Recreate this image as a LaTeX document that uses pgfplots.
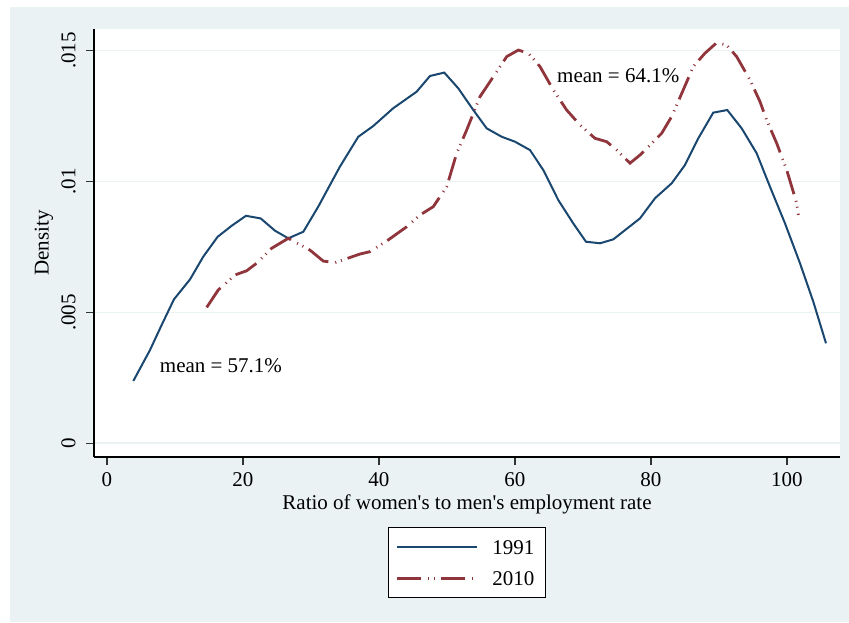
\documentclass[border=0pt]{standalone}
\usepackage{fontspec}
\setmainfont{Liberation Serif}
\usepackage{pgfplots}
\pgfplotsset{compat=1.18}

\definecolor{bgblue}{RGB}{234,242,243}
\definecolor{snavy}{RGB}{26,71,111}
\definecolor{smaroon}{RGB}{144,53,59}

\begin{document}
\begin{tikzpicture}[font=\fontsize{10.5pt}{12.6pt}\selectfont]
% page is 849x622 px, 1 px = 0.5pt
\path[use as bounding box, fill=white] (0pt,0pt) rectangle (424.5pt,311pt);
\fill[bgblue] (5pt,0pt) rectangle (424.5pt,307.5pt);
\begin{axis}[
    at={(47pt,82.5pt)}, anchor=south west,
    scale only axis,
    width=373pt, height=214pt,
    xmin=-1.91, xmax=107.8,
    ymin=-0.000523, ymax=0.015825,
    axis lines=left,
    axis line style={-, line width=0.6pt, black},
    axis background/.style={fill=white},
    xtick={0,20,40,60,80,100},
    ytick={0,0.005,0.01,0.015},
    yticklabels={0,.005,.01,.015},
    scaled y ticks=false,
    tick align=outside,
    major tick length=4pt,
    tick style={line width=0.6pt, black!80},
    ymajorgrids=true,
    grid style={bgblue, line width=0.9pt},
    /pgf/number format/assume math mode=true,
    xticklabel style={anchor=north, inner sep=0pt, yshift=-3.5pt},
    yticklabel style={xshift=-5pt, rotate=90, anchor=south, inner sep=0pt},
    xlabel={Ratio of women\textquotesingle s to men\textquotesingle s employment rate},
    ylabel={Density},
    xlabel style={at={(axis description cs:0.5,-0.1098)}, anchor=center},
    ylabel style={at={(axis description cs:-0.067,0.5)}, anchor=center},
    legend style={
        at={(axis description cs:0.394,-0.1636)}, anchor=north west,
        draw=black, line width=0.6pt, fill=white,
        inner xsep=3.5pt, inner ysep=4.25pt,
        row sep=4.5pt, column sep=5pt,
        nodes={inner sep=2pt, text height=7pt, text depth=0pt},
    },
    legend cell align=left,
    legend image code/.code={\draw[#1] (0pt,0pt) -- (40pt,0pt);},
]
\addplot[color=snavy, line width=1pt] coordinates {
    (3.87,0.00238) (6.32,0.00356) (8.04,0.00452) (9.85,0.00550)
    (12.21,0.00626) (14.16,0.00713) (16.28,0.00789) (18.34,0.00831)
    (20.44,0.00869) (22.60,0.00859) (24.71,0.00812) (26.66,0.00783)
    (28.87,0.00808) (31.07,0.00904) (34.26,0.01057) (36.96,0.01171)
    (39.16,0.01212) (42.10,0.01280) (45.54,0.01343) (47.50,0.01403)
    (49.60,0.01416) (51.66,0.01356) (53.87,0.01273) (55.84,0.01203)
    (58.04,0.01171) (60.00,0.01152) (62.21,0.01120) (64.16,0.01044)
    (66.37,0.00929) (68.57,0.00840) (70.44,0.00770) (72.50,0.00764)
    (74.46,0.00779) (76.66,0.00824) (78.38,0.00859) (80.59,0.00936)
    (83.04,0.00993) (85.00,0.01063) (86.96,0.01165) (89.16,0.01263)
    (91.22,0.01273) (93.34,0.01203) (95.54,0.01108) (97.50,0.00980)
    (99.71,0.00840) (101.91,0.00688) (103.87,0.00541) (105.74,0.00382)
};
\addlegendentry{1991}
\addplot[color=smaroon, line width=1.4pt,
    dash pattern=on 12pt off 3.5pt on 0.5pt off 2.5pt on 0.5pt off 3pt] coordinates {
    (14.66,0.00519) (16.37,0.00586) (18.82,0.00643) (20.54,0.00659)
    (22.01,0.00688) (24.22,0.00745) (26.66,0.00783) (29.85,0.00738)
    (31.81,0.00696) (33.53,0.00690) (37.21,0.00723) (38.68,0.00732)
    (41.37,0.00777) (44.07,0.00827) (46.03,0.00872) (47.99,0.00904)
    (48.97,0.00942) (49.96,0.00980) (51.43,0.01108) (52.90,0.01197)
    (54.85,0.01324) (56.81,0.01400) (58.78,0.01477) (60.49,0.01502)
    (61.96,0.01490) (63.68,0.01439) (65.63,0.01350) (67.60,0.01273)
    (69.56,0.01216) (71.76,0.01165) (73.49,0.01152) (74.96,0.01120)
    (76.91,0.01070) (78.38,0.01101) (79.85,0.01139) (81.57,0.01184)
    (83.04,0.01248) (84.75,0.01350) (86.22,0.01439) (87.94,0.01490)
    (89.66,0.01530) (91.13,0.01521) (92.60,0.01477) (94.56,0.01388)
    (96.03,0.01305) (97.01,0.01235) (98.49,0.01146) (99.96,0.01044)
    (101.43,0.00917) (101.66,0.00872)
};
\addlegendentry{2010}
\node[anchor=base, inner sep=0pt] at (axis cs:16.76,0.002723) {mean = 57.1\%};
\node[anchor=base, inner sep=0pt] at (axis cs:75.19,0.013774) {mean = 64.1\%};
\end{axis}
\end{tikzpicture}
\end{document}
